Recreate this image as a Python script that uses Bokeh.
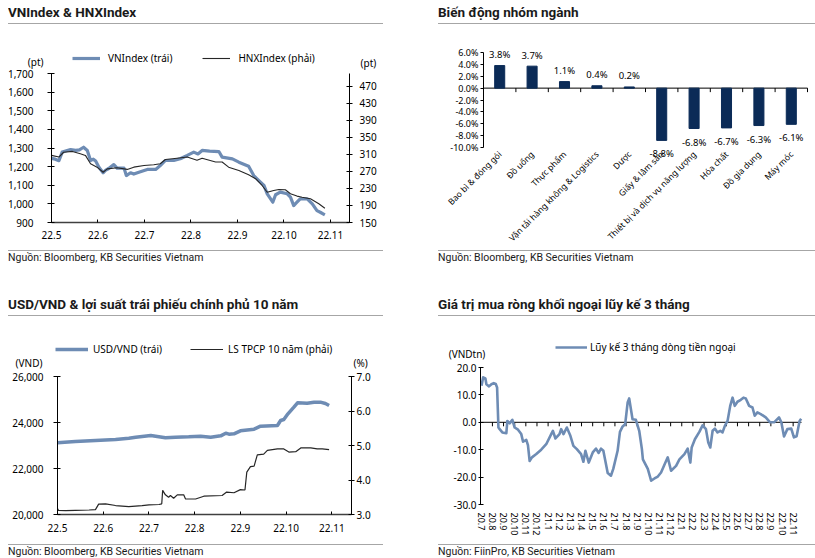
import math
from bokeh.plotting import figure
from bokeh.models import (Range1d, LinearAxis, FixedTicker, NumeralTickFormatter,
                          PrintfTickFormatter, Legend, LegendItem, Label, LabelSet, ColumnDataSource,
                          Div, Spacer)
from bokeh.core.properties import value
from bokeh.layouts import row, column
from bokeh.embed import file_html
from bokeh.resources import INLINE

# ---------------- data ----------------
# Panel 1: VNIndex & HNXIndex (x = month of 2022, fractional)
vn_month = [5.00, 5.08, 5.16, 5.23, 5.32, 5.41, 5.52, 5.60, 5.69, 5.77, 5.84, 5.90, 5.95, 6.02, 6.11,
            6.16, 6.23, 6.34, 6.41, 6.56, 6.61, 6.70, 6.77, 6.88, 7.06, 7.24, 7.34, 7.45, 7.63, 7.77,
            7.92, 8.06, 8.15, 8.24, 8.40, 8.60, 8.67, 8.89, 9.03, 9.24, 9.35, 9.46, 9.57, 9.64, 9.76,
            9.82, 9.92, 10.07, 10.14, 10.21, 10.28, 10.35, 10.50, 10.61, 10.71, 10.78, 10.88]
vn_val = [1244, 1240, 1232, 1278, 1285, 1292, 1287, 1290, 1304, 1287, 1233, 1240, 1230, 1197, 1167,
          1180, 1190, 1211, 1192, 1192, 1152, 1167, 1160, 1170, 1185, 1185, 1206, 1233, 1233, 1242,
          1260, 1278, 1268, 1287, 1283, 1281, 1251, 1242, 1224, 1202, 1152, 1125, 1099, 1054, 1009,
          1049, 1063, 1054, 1036, 991, 1009, 1027, 1027, 1000, 964, 955, 941]
hnx_month = [5.00, 5.16, 5.26, 5.45, 5.62, 5.73, 5.84, 5.98, 6.11, 6.20, 6.41, 6.63, 6.77, 6.99, 7.20,
             7.34, 7.45, 7.70, 7.92, 8.13, 8.24, 8.53, 8.67, 8.81, 9.03, 9.24, 9.39, 9.53, 9.64, 9.78,
             9.89, 10.03, 10.14, 10.28, 10.39, 10.57, 10.75, 10.88]
hnx_val = [307.6, 303.7, 315, 317, 311.6, 307.6, 288, 280, 268, 276, 278.7, 274.7, 280, 284, 285.7,
           288, 298, 301, 303.7, 296, 301, 292, 292, 280, 272, 262, 253, 237, 221, 225,
           227.6, 227, 217.5, 212, 209.5, 205.7, 194, 183.6]
month_ticks_2022 = [5, 6, 7, 8, 9, 10, 11]
month_labels_2022 = ["22.5", "22.6", "22.7", "22.8", "22.9", "22.10", "22.11"]

# Panel 2: sector performance (%)
sector_names = ["Bao bì & đóng gói", "Đồ uống", "Thực phẩm", "Vận tải hàng không & Logistics", "Dược",
                "Giấy & lâm sản", "Thiết bị và dịch vụ năng lượng", "Hóa chất", "Đồ gia dụng", "Máy móc"]
sector_change = [3.8, 3.7, 1.1, 0.4, 0.2, -8.8, -6.8, -6.7, -6.3, -6.1]

# Panel 3: USD/VND & 10Y government bond yield
usd_month = [5.00, 5.39, 5.83, 6.27, 6.56, 6.71, 7.04, 7.36, 7.58, 7.87, 8.13, 8.35, 8.57, 8.68, 8.75,
             8.86, 9.00, 9.30, 9.44, 9.81, 9.88, 9.95, 10.04, 10.17, 10.25, 10.46, 10.61, 10.75, 10.86, 10.94]
usd_val = [23117, 23174, 23217, 23261, 23319, 23362, 23435, 23333, 23362, 23377, 23406, 23362, 23420, 23536, 23493,
           23507, 23638, 23710, 23840, 23870, 24087, 24130, 24377, 24667, 24855, 24840, 24884, 24884, 24826, 24740]
bond_month = [5.00, 5.02, 5.18, 5.39, 5.69, 5.83, 5.90, 6.05, 6.27, 6.56, 6.85, 7.00, 7.22, 7.28, 7.30,
              7.36, 7.43, 7.47, 7.54, 7.62, 7.76, 7.80, 8.02, 8.20, 8.60, 8.70, 8.86, 9.00, 9.10, 9.14,
              9.22, 9.30, 9.37, 9.51, 9.59, 9.81, 9.95, 10.06, 10.21, 10.32, 10.54, 10.68, 10.79, 10.94]
bond_val = [3.17, 3.12, 3.11, 3.12, 3.13, 3.14, 3.30, 3.31, 3.26, 3.23, 3.26, 3.28, 3.29, 3.31, 3.70,
            3.57, 3.50, 3.55, 3.47, 3.57, 3.57, 3.45, 3.45, 3.53, 3.55, 3.65, 3.63, 3.72, 3.71, 4.23,
            4.39, 4.40, 4.73, 4.75, 4.86, 4.90, 4.90, 4.81, 4.82, 4.93, 4.93, 4.90, 4.90, 4.88]

# Panel 4: 3-month cumulative foreign net buying (x = months since Jul-2020)
flow_month = [0.02, 0.17, 0.37, 0.46, 0.70, 0.91, 1.12, 1.30, 1.42, 1.54,
              1.65, 1.89, 2.25, 2.34, 2.55, 2.79, 3.00, 3.30, 3.59, 3.75,
              4.04, 4.19, 4.34, 4.55, 4.94, 5.38, 5.83, 6.28, 6.43, 6.66,
              7.02, 7.17, 7.38, 7.68, 7.98, 8.27, 8.58, 8.96, 9.17, 9.35,
              9.65, 10.01, 10.30, 10.54, 10.75, 10.96, 11.35, 11.64, 11.85, 12.24,
              12.45, 12.69, 12.92, 13.14, 13.28, 13.58, 13.88, 14.18, 14.42, 14.51,
              14.66, 14.95, 15.25, 15.55, 15.85, 16.14, 16.59, 16.74, 17.04, 17.49,
              17.79, 18.24, 18.53, 18.77, 18.89, 19.18, 19.58, 19.87, 20.17, 20.38,
              20.56, 20.77, 20.97, 21.21, 21.46, 21.66, 21.87, 22.11, 22.35, 22.56,
              22.76, 23.00, 23.30, 23.54, 23.75, 24.05, 24.35, 24.55, 24.79, 25.09,
              25.54, 25.93, 26.29, 26.73, 26.94, 27.18, 27.48, 27.83, 28.07, 28.31,
              28.58, 28.72]
flow_val = [13.3, 16.4, 16.0, 13.9, 13.1, 13.9, 14.3, 14.0, 12.7, -1.9,
            -2.5, -3.7, -4.0, 0.5, -0.4, 0.9, -1.9, -2.7, -4.3, -7.1,
            -6.4, -8.3, -14.1, -12.8, -11.6, -10.0, -8.0, -4.3, -3.1, -5.9,
            -4.3, -2.5, -4.3, -1.9, -4.7, -8.6, -9.8, -11.6, -14.4, -10.4,
            -14.7, -11.0, -9.6, -11.2, -9.6, -10.4, -18.5, -19.5, -17.0, -10.4,
            -3.5, -1.5, -0.7, 7.2, 8.7, 1.1, 0.9, -3.1, -9.8, -13.5,
            -14.7, -17.0, -21.3, -20.5, -19.8, -18.3, -14.1, -12.8, -17.7, -15.9,
            -13.5, -11.6, -9.6, -14.7, -9.2, -6.2, -3.5, -1.1, -2.5, -7.4,
            -9.2, -3.1, -2.3, -3.7, -3.1, -3.7, -1.3, 0.5, 6.0, 9.0,
            6.0, 7.5, 8.2, 9.0, 8.7, 6.0, 5.4, 2.4, 3.6, 3.0,
            1.8, 0.0, 0.0, 1.8, 0.0, -5.2, -2.5, -2.3, -5.5, -5.1,
            0.5, 1.3]
flow_month_labels = ["20.7", "20.8", "20.9", "20.10", "20.11", "20.12",
                     "21.1", "21.2", "21.3", "21.4", "21.5", "21.6", "21.7", "21.8", "21.9", "21.10", "21.11", "21.12",
                     "22.1", "22.2", "22.3", "22.4", "22.5", "22.6", "22.7", "22.8", "22.9", "22.10", "22.11"]

# ---------------- style ----------------
FONT = "Noto Sans"
TFONT = "Roboto"
BLUE = "#6E8CB4"
DARK = "#262626"
NAVY = "#0B2B57"
RULE = "#A6A6A6"


def title_div(text, width):
    html = (f'<div style="box-sizing:border-box;width:{width}px;height:24px;padding-top:4px;'
            f'border-bottom:1px solid {RULE};font-family:{TFONT};font-weight:bold;font-size:13.5px;'
            f'line-height:16px;color:#1a1a1a;white-space:nowrap;overflow:hidden">{text}</div>')
    return Div(text=html, width=width, height=24, margin=0)


def source_div(text, width, height):
    html = (f'<div style="box-sizing:border-box;width:{width}px;height:{height}px;padding-top:1px;'
            f'border-top:1px solid {RULE};font-family:{TFONT};font-size:10.5px;line-height:11px;'
            f'color:#1a1a1a;white-space:nowrap">{text}</div>')
    return Div(text=html, width=width, height=height, margin=0)


def span_range(lo, hi, px_before, px_span, px_after):
    """Range whose [lo, hi] part covers px_span pixels, padded by pixel margins."""
    k = (hi - lo) / px_span
    return Range1d(lo - px_before * k, hi + px_after * k)


def base_fig(width, height, x_range, y_range):
    p = figure(width=width, height=height, x_range=x_range, y_range=y_range,
               output_backend="svg", toolbar_location=None, x_axis_type=None, y_axis_type=None,
               min_border=0)
    p.margin = 0
    p.outline_line_color = None
    p.background_fill_color = "white"
    p.border_fill_color = "white"
    return p


def style_axis(ax, size="10px", tick_in=0, tick_out=0, standoff=4, line_color="black", line_width=1):
    ax.axis_line_color = line_color
    ax.axis_line_width = line_width
    ax.major_tick_line_color = "black"
    ax.major_tick_in = tick_in
    ax.major_tick_out = tick_out
    ax.minor_tick_line_color = None
    ax.major_label_text_font = FONT
    ax.major_label_text_font_size = size
    ax.major_label_text_color = "black"
    ax.major_label_standoff = standoff


def legend(items, loc, glyph_w, standoff, spacing):
    return Legend(items=items, orientation="horizontal", location=loc, padding=0, margin=0,
                  spacing=spacing, glyph_width=glyph_w, glyph_height=12, label_height=12,
                  label_standoff=standoff, background_fill_alpha=0, border_line_color=None,
                  label_text_font=FONT, label_text_font_size="10px", label_text_color="black")


def unit_label(x, y, text, x_off, y_off, align, **kw):
    return Label(x=x, y=y, text=text, x_offset=x_off, y_offset=y_off, text_align=align,
                 text_baseline="middle", text_font=FONT, text_font_size="10px", text_color="black", **kw)


# ---------------- panel 1 ----------------
X1 = (5.0, 11.41)
Y1 = (900, 1700)
Y1R = (150, 500)
p1 = base_fig(375, 225, span_range(*X1, 43, 298, 34), span_range(*Y1, 27, 149, 49))
p1.extra_y_ranges = {"hnx": span_range(*Y1R, 27, 149, 49)}
a = LinearAxis(fixed_location=X1[0], bounds=Y1, ticker=FixedTicker(ticks=list(range(900, 1701, 100))),
               formatter=NumeralTickFormatter(format="0,0"))
style_axis(a, tick_in=3, tick_out=4, standoff=14)
p1.add_layout(a, "left")
a = LinearAxis(y_range_name="hnx", fixed_location=X1[1], bounds=Y1R,
               ticker=FixedTicker(ticks=list(range(150, 471, 40))))
style_axis(a, tick_in=3, tick_out=3, standoff=7)
p1.add_layout(a, "right")
a = LinearAxis(fixed_location=Y1[0], bounds=X1, ticker=FixedTicker(ticks=month_ticks_2022),
               major_label_overrides=dict(zip(month_ticks_2022, month_labels_2022)))
style_axis(a, tick_in=3, tick_out=0, standoff=8, line_color="#404040", line_width=1.5)
p1.add_layout(a, "below")
r_vn = p1.line(vn_month, vn_val, color=BLUE, line_width=3.2, line_join="round")
r_hnx = p1.line(hnx_month, hnx_val, y_range_name="hnx", color=DARK, line_width=1.1)
p1.add_layout(legend([LegendItem(label="VNIndex (trái)", renderers=[r_vn]),
                      LegendItem(label="HNXIndex (phải)", renderers=[r_hnx])], (64, 184), 28, 8, 30))
p1.add_layout(unit_label(X1[0], Y1[1], "(pt)", -8, 12, "right"))
p1.add_layout(unit_label(X1[1], Y1R[1], "(pt)", 11, 11, "left", y_range_name="hnx"))

# ---------------- panel 2 ----------------
n_sec = len(sector_names)
sec_pos = [i + 0.5 for i in range(n_sec)]          # category centres on a 0..n axis
sec_edges = list(range(1, n_sec + 1))
Y2 = (-10, 6)
p2 = base_fig(377, 225, span_range(0, n_sec, 45, 324, 8), span_range(*Y2, 102, 95, 28))
a = LinearAxis(fixed_location=0, bounds=Y2, ticker=FixedTicker(ticks=list(range(-10, 7, 2))),
               formatter=PrintfTickFormatter(format="%.1f%%"))
style_axis(a, size="9px", tick_in=0, tick_out=3, standoff=2)
p2.add_layout(a, "left")
ca = LinearAxis(fixed_location=Y2[0], ticker=FixedTicker(ticks=sec_pos),
                major_label_overrides=dict(zip(sec_pos, sector_names)))
style_axis(ca, size="8.5px", standoff=5, line_color=None)
ca.major_tick_line_color = None
ca.major_label_orientation = math.pi / 4
p2.add_layout(ca, "below")
tick2 = 4 * (Y2[1] - Y2[0]) / 95                     # 4 px tick length in data units
p2.segment(x0=[0], y0=[0], x1=[n_sec], y1=[0], color="black", line_width=1)
p2.segment(x0=sec_edges, y0=[0] * n_sec, x1=sec_edges, y1=[-tick2] * n_sec, color="black", line_width=1)
p2.vbar(x=sec_pos, top=sector_change, width=0.31, color=NAVY)
pos = [i for i, v in enumerate(sector_change) if v >= 0]
neg = [i for i, v in enumerate(sector_change) if v < 0]
for grp, off in ((pos, 11), (neg, -13.5)):
    src = ColumnDataSource(dict(x=[sec_pos[i] for i in grp], y=[sector_change[i] for i in grp],
                                t=[f"{sector_change[i]:.1f}%" for i in grp]))
    p2.add_layout(LabelSet(x="x", y="y", text="t", source=src, y_offset=off, text_align="center",
                           text_baseline="middle", text_font=value(FONT), text_font_size=value("9.5px"),
                           text_color="black"))

# ---------------- panel 3 ----------------
X3 = (5.0, 11.43)
Y3 = (20000, 26000)
Y3R = (3.0, 7.0)
p3 = base_fig(375, 227, span_range(*X3, 49, 294, 32), span_range(*Y3, 29, 138, 60))
p3.extra_y_ranges = {"bond": span_range(*Y3R, 29, 138, 60)}
a = LinearAxis(fixed_location=X3[0], bounds=Y3, ticker=FixedTicker(ticks=list(range(20000, 26001, 2000))),
               formatter=NumeralTickFormatter(format="0,0"))
style_axis(a, tick_in=3, tick_out=4, standoff=10)
p3.add_layout(a, "left")
a = LinearAxis(y_range_name="bond", fixed_location=X3[1], bounds=Y3R, ticker=FixedTicker(ticks=[3, 4, 5, 6, 7]),
               formatter=NumeralTickFormatter(format="0.0"))
style_axis(a, tick_in=3, tick_out=3, standoff=2)
p3.add_layout(a, "right")
a = LinearAxis(fixed_location=Y3[0], bounds=X3, ticker=FixedTicker(ticks=month_ticks_2022),
               major_label_overrides=dict(zip(month_ticks_2022, month_labels_2022)))
style_axis(a, tick_in=3, tick_out=0, standoff=9, line_color="#404040", line_width=1.5)
p3.add_layout(a, "below")
r_usd = p3.line(usd_month, usd_val, color=BLUE, line_width=3.5, line_join="round")
r_bond = p3.line(bond_month, bond_val, y_range_name="bond", color=DARK, line_width=1.2)
p3.add_layout(legend([LegendItem(label="USD/VND (trái)", renderers=[r_usd]),
                      LegendItem(label="LS TPCP 10 năm (phải)", renderers=[r_bond])], (47, 187), 33, 5, 28))
p3.add_layout(unit_label(X3[0], Y3[1], "(VND)", -15, 14, "right"))
p3.add_layout(unit_label(X3[1], Y3R[1], "(%)", 2, 14, "left", y_range_name="bond"))

# ---------------- panel 4 ----------------
X4 = (-0.07, 28.75)
Y4 = (-30, 20)
p4 = base_fig(377, 227, span_range(*X4, 42, 321, 14), span_range(*Y4, 39, 137, 51))
a = LinearAxis(fixed_location=X4[0], bounds=Y4, ticker=FixedTicker(ticks=list(range(-30, 21, 10))),
               formatter=NumeralTickFormatter(format="0.0"))
style_axis(a, tick_in=3, tick_out=2, standoff=2)
p4.add_layout(a, "left")
ticks4 = list(range(len(flow_month_labels)))
la = LinearAxis(fixed_location=Y4[0], ticker=FixedTicker(ticks=ticks4),
                major_label_overrides=dict(zip(ticks4, flow_month_labels)))
style_axis(la, size="9px", standoff=8, line_color=None)
la.major_tick_line_color = None
la.major_label_orientation = "vertical"
p4.add_layout(la, "below")
tick4 = 4 * (Y4[1] - Y4[0]) / 137
edges4 = ticks4[1:]
p4.segment(x0=[X4[0]], y0=[0], x1=[X4[1]], y1=[0], color="black", line_width=1)
p4.segment(x0=edges4, y0=[0] * len(edges4), x1=edges4, y1=[-tick4] * len(edges4), color="black", line_width=1)
r_flow = p4.line(flow_month, flow_val, color=BLUE, line_width=2.6, line_join="round")
p4.add_layout(legend([LegendItem(label="Lũy kế 3 tháng dòng tiền ngoại", renderers=[r_flow])], (117, 189), 32, 3, 10))
p4.add_layout(unit_label(X4[0], Y4[1], "(VNDtn)", -13.5, 14, "center"))

# ---------------- layout ----------------
src_bb = "Nguồn: Bloomberg, KB Securities Vietnam"
row1 = row(column(title_div("VNIndex &amp; HNXIndex", 375), p1, source_div(src_bb, 375, 18)),
           Spacer(width=55, height=10, margin=0),
           column(title_div("Biến động nhóm ngành", 377), p2, source_div(src_bb, 377, 18)))
row2 = row(column(title_div("USD/VND &amp; lợi suất trái phiếu chính phủ 10 năm", 375), p3, source_div(src_bb, 375, 15)),
           Spacer(width=55, height=10, margin=0),
           column(title_div("Giá trị mua ròng khối ngoại lũy kế 3 tháng", 377), p4,
                  source_div("Nguồn: FiinPro, KB Securities Vietnam", 377, 15)))
root = column(row1, Spacer(height=25, width=10, margin=0), row2, margin=(0, 0, 0, 8))

open("out.html", "w").write(file_html(root, INLINE))
